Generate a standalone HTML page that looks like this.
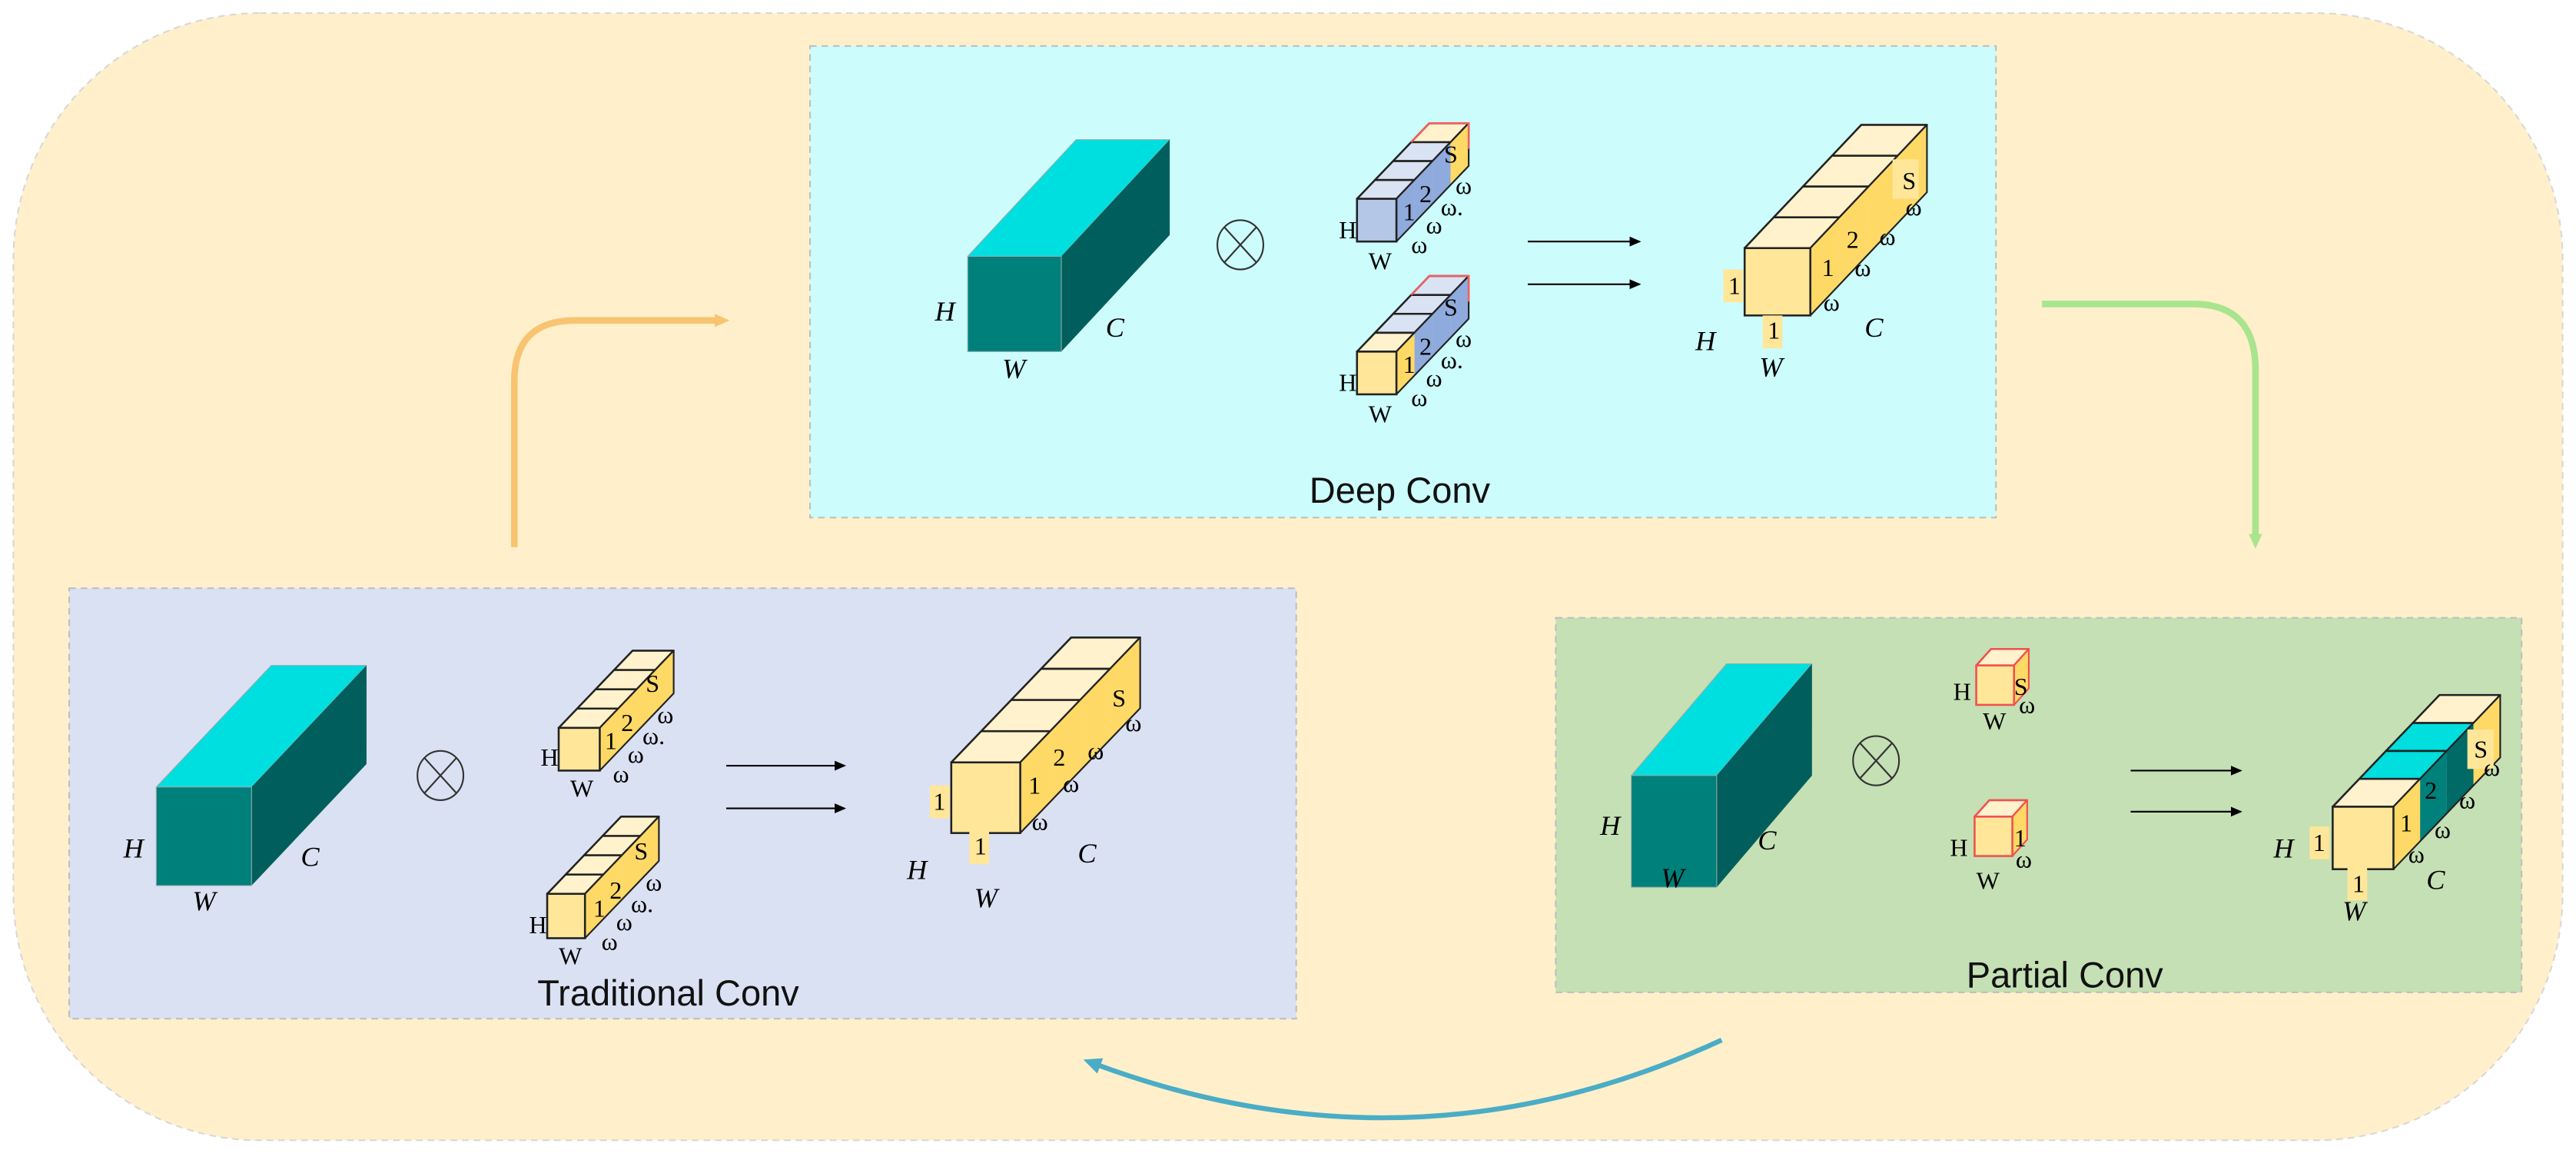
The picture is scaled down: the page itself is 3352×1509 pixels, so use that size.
<!DOCTYPE html>
<html><head><meta charset="utf-8"><style>
html,body{margin:0;padding:0;background:#fff;}
svg{display:block;}
.it{font-family:"Liberation Serif",serif;font-style:italic;font-size:17px;fill:#000;}
.sr{font-family:"Liberation Serif",serif;font-size:15px;fill:#000;}
.ttl{font-family:"Liberation Sans",sans-serif;font-size:22px;fill:#111;}
</style></head><body>
<svg id="s" width="3352" height="1509" viewBox="0 0 1568 706" xmlns="http://www.w3.org/2000/svg">
<defs>
<marker id="ab" markerWidth="8" markerHeight="8" refX="6" refY="4" orient="auto" markerUnits="userSpaceOnUse"><path d="M0,1 L7,4 L0,7 z" fill="#000"/></marker>
<marker id="mo" markerWidth="10" markerHeight="10" refX="5" refY="5" orient="auto" markerUnits="userSpaceOnUse"><path d="M0,1 L9,5 L0,9 z" fill="#f8c471"/></marker>
<marker id="mg" markerWidth="10" markerHeight="10" refX="5" refY="5" orient="auto" markerUnits="userSpaceOnUse"><path d="M0,1 L9,5 L0,9 z" fill="#a9e48e"/></marker>
<marker id="mb" markerWidth="12" markerHeight="12" refX="5" refY="6" orient="auto" markerUnits="userSpaceOnUse"><path d="M0,1 L11,6 L0,11 z" fill="#4bacc6"/></marker>
</defs>
<rect x="8" y="8" width="1552" height="686" rx="150" fill="#fff0cb" stroke="#d8d8d8" stroke-dasharray="4 3"/>
<rect x="493" y="28" width="722" height="287" fill="#ccfcfc" stroke="#bfbfbf" stroke-dasharray="4 3"/>
<rect x="42" y="358" width="747" height="262" fill="#dae1f3" stroke="#bfbfbf" stroke-dasharray="4 3"/>
<rect x="947" y="376" width="588" height="228" fill="#c5e0b4" stroke="#bfbfbf" stroke-dasharray="4 3"/>

<path d="M313,333 V232 Q313,195 350,195 H440" fill="none" stroke="#f8c471" stroke-width="4" marker-end="url(#mo)"/>
<path d="M1243,185 H1335 Q1373,185 1373,225 V330" fill="none" stroke="#a9e48e" stroke-width="4" marker-end="url(#mg)"/>
<path d="M1048,633 Q860,720 665,647" fill="none" stroke="#4bacc6" stroke-width="3" marker-end="url(#mb)"/>

<g id="shapes"></g>

<g fill="none" stroke="#333" stroke-width="1">
<ellipse cx="755" cy="149" rx="14" ry="15"/><path d="M745,138 L765,160 M765,138 L745,160"/>
<ellipse cx="268" cy="472" rx="14" ry="15"/><path d="M258,461 L278,483 M278,461 L258,483"/>
<ellipse cx="1142" cy="463" rx="14" ry="15"/><path d="M1132,452 L1152,474 M1152,452 L1132,474"/>
</g>
<g stroke="#000" stroke-width="1">
<line x1="930" y1="147" x2="998" y2="147" marker-end="url(#ab)"/>
<line x1="930" y1="173" x2="998" y2="173" marker-end="url(#ab)"/>
<line x1="442" y1="466" x2="514" y2="466" marker-end="url(#ab)"/>
<line x1="442" y1="492" x2="514" y2="492" marker-end="url(#ab)"/>
<line x1="1297" y1="469" x2="1364" y2="469" marker-end="url(#ab)"/>
<line x1="1297" y1="494" x2="1364" y2="494" marker-end="url(#ab)"/>
</g>

<text class="it" x="569" y="195">H</text><text class="it" x="673" y="205">C</text><text class="it" x="610" y="230">W</text>
<text class="it" x="75" y="522">H</text><text class="it" x="183" y="527">C</text><text class="it" x="117" y="554">W</text>
<text class="it" x="974" y="508">H</text><text class="it" x="1070" y="517">C</text><text class="it" x="1011" y="540">W</text>

<text class="it" x="1032" y="213">H</text><text class="it" x="1135" y="205">C</text><text class="it" x="1071" y="229">W</text>
<text class="it" x="552" y="535">H</text><text class="it" x="656" y="525">C</text><text class="it" x="593" y="552">W</text>
<text class="it" x="1384" y="522">H</text><text class="it" x="1477" y="541">C</text><text class="it" x="1426" y="560">W</text>

<text class="ttl" x="797" y="306">Deep Conv</text>
<text class="ttl" x="327" y="612">Traditional Conv</text>
<text class="ttl" x="1197" y="601">Partial Conv</text>

<g class="sr">
<text x="815" y="145">H</text><text x="833" y="164">W</text><text x="854" y="134">1</text><text x="864" y="123">2</text><text x="879" y="99">S</text>
<text x="859" y="154">ω</text><text x="868" y="142">ω</text><text x="877" y="131">ω.</text><text x="886" y="118">ω</text>
<text x="815" y="238">H</text><text x="833" y="257">W</text><text x="854" y="227">1</text><text x="864" y="216">2</text><text x="879" y="192">S</text>
<text x="859" y="247">ω</text><text x="868" y="235">ω</text><text x="877" y="224">ω.</text><text x="886" y="211">ω</text>
<text x="329" y="466">H</text><text x="347" y="485">W</text><text x="368" y="456">1</text><text x="378" y="445">2</text><text x="393" y="421">S</text>
<text x="373" y="476">ω</text><text x="382" y="464">ω</text><text x="391" y="453">ω.</text><text x="400" y="440">ω</text>
<text x="322" y="568">H</text><text x="340" y="587">W</text><text x="361" y="558">1</text><text x="371" y="547">2</text><text x="386" y="523">S</text>
<text x="366" y="578">ω</text><text x="375" y="566">ω</text><text x="384" y="555">ω.</text><text x="393" y="542">ω</text>
<text x="1052" y="179">1</text><text x="1076" y="206">1</text><text x="1109" y="168">1</text><text x="1124" y="151">2</text><text x="1158" y="115">S</text>
<text x="1110" y="189">ω</text><text x="1129" y="168">ω</text><text x="1144" y="149">ω</text><text x="1160" y="131">ω</text>
<text x="568" y="493">1</text><text x="593" y="520">1</text><text x="626" y="483">1</text><text x="641" y="466">2</text><text x="677" y="430">S</text>
<text x="628" y="505">ω</text><text x="647" y="482">ω</text><text x="662" y="462">ω</text><text x="685" y="445">ω</text>
<text x="1408" y="518">1</text><text x="1432" y="543">1</text><text x="1461" y="506">1</text><text x="1476" y="486">2</text><text x="1506" y="461">S</text>
<text x="1466" y="525">ω</text><text x="1482" y="510">ω</text><text x="1497" y="492">ω</text><text x="1512" y="472">ω</text>
<text x="1189" y="426">H</text><text x="1226" y="423">S</text><text x="1229" y="434">ω</text><text x="1207" y="444">W</text>
<text x="1187" y="521">H</text><text x="1226" y="515">1</text><text x="1227" y="528">ω</text><text x="1203" y="541">W</text>
</g>
</svg>
<script>
const NS="http://www.w3.org/2000/svg",G=document.getElementById("shapes");
function el(t,a){const e=document.createElementNS(NS,t);for(const k in a)e.setAttribute(k,a[k]);G.appendChild(e);return e;}
function poly(pts,fill,stroke,sw){return el("polygon",{points:pts.map(p=>p.join(",")).join(" "),fill:fill,stroke:stroke||"none","stroke-width":sw||1,"stroke-linejoin":"round"});}
function prism(x,y,w,h,dx,dy,n,front,tops,rights,stroke,lastRed){
 for(let i=0;i<n;i++){const a=i/n,b=(i+1)/n;
  poly([[x+dx*a,y+dy*a],[x+w+dx*a,y+dy*a],[x+w+dx*b,y+dy*b],[x+dx*b,y+dy*b]],tops[i],stroke,1.2);
  poly([[x+w+dx*a,y+dy*a],[x+w+dx*b,y+dy*b],[x+w+dx*b,y+h+dy*b],[x+w+dx*a,y+h+dy*a]],rights[i],"none");}
 poly([[x+w,y],[x+w+dx,y+dy],[x+w+dx,y+h+dy],[x+w,y+h]],"none",stroke,1);
 if(lastRed){const a=(n-1)/n;el("polyline",{points:`${x+dx*a},${y+dy*a} ${x+dx},${y+dy} ${x+w+dx},${y+dy} ${x+w+dx},${y+dy+h*0.6}`,fill:"none",stroke:"#f06060","stroke-width":1.2});}
 el("rect",{x:x,y:y,width:w,height:h,fill:front,stroke:stroke,"stroke-width":1.2});
}
function block(x,y,w,h,bx,by){
 poly([[x,y],[x+w,y],[x+w+bx,y+by],[x+bx,y+by]],"#00dfe0","#9aa",0.5);
 poly([[x+w,y],[x+w+bx,y+by],[x+w+bx,y+h+by],[x+w,y+h]],"#005f5c","none");
 el("rect",{x:x,y:y,width:w,height:h,fill:"#00807b",stroke:"#9aa","stroke-width":0.5});
}
block(589,156,57,58,66,-71);
block(95,479,58,60,70,-74);
block(993,472,52,68,58,-68);
const LB="#dae3f3",MB="#8faadc",LY="#fff2cc",Y="#ffd966",FY="#ffe699",FB="#b4c7e7";
function bg(x,y,w,h,c){el("rect",{x:x,y:y,width:w,height:h,fill:c});}
prism(826,121,24,26,44,-46,4,FB,[LB,LB,LB,LY],[MB,MB,MB,Y],"#222",true);
prism(826,214,24,26,44,-46,4,FY,[LY,LB,LB,"#dae3f3"],[Y,MB,MB,MB],"#222",true);
prism(340,443,25,26,45,-47,4,FY,[LY,LY,LY,LY],[Y,Y,Y,Y],"#222",false);
prism(333,544,23,27,45,-47,4,FY,[LY,LY,LY,LY],[Y,Y,Y,Y],"#222",false);
prism(1062,151,40,41,71,-75,4,FY,[LY,LY,LY,LY],[Y,Y,Y,Y],"#222",false);
prism(579,464,42,43,73,-76,4,FY,[LY,LY,LY,LY],[Y,Y,Y,Y],"#222",false);
prism(1420,491,37,38,65,-68,4,FY,[LY,"#00dede","#00dede",LY],[Y,"#00807b","#006a66",Y],"#222",false);
prism(1203,405,23,24,9,-10,1,FY,[LY],[Y],"#f05050",false);
prism(1202,497,23,24,9,-10,1,FY,[LY],[Y],"#f05050",false);
[[1049,164,12,20],[1073,192,12,20],[1152,97,16,24],[566,478,12,20],[590,506,12,20],[1406,503,12,20],[1429,528,12,20],[1502,444,16,24]].forEach(b=>bg(b[0],b[1],b[2],b[3],FY));
</script>
</body></html>
